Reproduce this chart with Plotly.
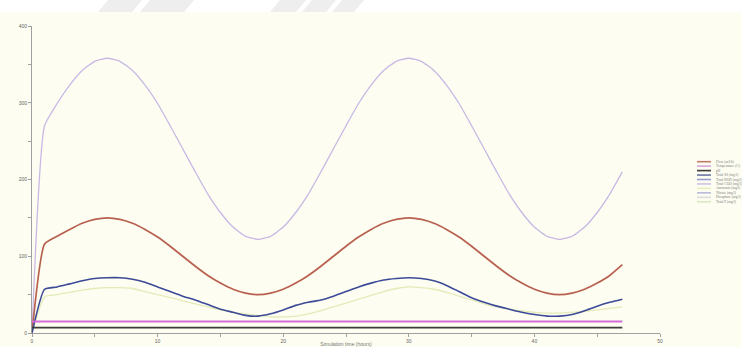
import plotly.graph_objects as go

# Simulation time (hours)
hours = list(range(48))

flow = [0, 116, 126, 135, 143, 148, 150, 148, 143, 135, 125, 113, 100, 87, 75, 65, 57, 52, 50, 52, 57, 65, 75, 87,
        100, 113, 125, 135, 143, 148, 150, 148, 143, 135, 125, 113, 100, 87, 75, 65, 57, 52, 50, 52, 57, 65, 75, 89]
temperature = [15] * 48
ph = [7] * 48
total_ss = [0, 57, 60, 64, 68, 71, 72, 72, 70, 66, 60, 54, 48, 43, 37, 31, 27, 23, 22, 25, 30, 36, 40, 43,
            48, 54, 60, 65, 69, 71, 72, 71, 68, 62, 54, 46, 40, 35, 31, 27, 24, 22, 22, 24, 29, 35, 40, 44]
total_cod = [0, 270, 299, 323, 342, 354, 358, 354, 342, 323, 299, 270, 240, 210, 181, 157, 138, 126, 122, 126, 138, 157, 181, 210,
             240, 270, 299, 323, 342, 354, 358, 354, 342, 323, 299, 270, 240, 210, 181, 157, 138, 126, 122, 126, 138, 157, 181, 210]
total_p = [0, 47, 50, 53, 56, 58, 59, 59, 58, 54, 50, 46, 42, 38, 34, 30, 27, 25, 23, 21, 21, 22, 25, 29,
           34, 39, 44, 49, 54, 58, 60, 59, 57, 53, 48, 43, 38, 34, 31, 29, 27, 26, 26, 27, 28, 30, 32, 34]

legend_names = ["Flow (m3/h)", "Temperature (C)", "pH", "Total SS (mg/l)", "Total BOD (mg/l)",
                "Total COD (mg/l)", "Ammonia (mg/l)", "Nitrate (mg/l)", "Phosphate (mg/l)", "Total P (mg/l)"]
legend_colors = ["#c07a6c", "#d9a6e0", "#3a3a3a", "#6a72a8", "#9a9ad0",
                 "#cfc2e6", "#e8ecc0", "#b8bcd8", "#dcdcdc", "#d8e8c0"]

x_ticks = [0, 10, 20, 30, 40, 50]
y_ticks = [0, 100, 200, 300, 400]

series = [
    (total_cod, "Total COD (mg/l)", "#c9b8e4", 1.3),
    (flow, "Flow (m3/h)", "#b8604f", 1.7),
    (total_p, "Total P (mg/l)", "#e4ebb8", 1.3),
    (total_ss, "Total SS (mg/l)", "#3c4a98", 1.6),
    (temperature, "Temperature (C)", "#d46cd8", 2.2),
    (ph, "pH", "#3c3c3c", 1.6),
]

fig = go.Figure()
for vals, name, color, width in series:
    fig.add_trace(go.Scatter(x=hours, y=vals, mode="lines", name=name,
                             line=dict(color=color, width=width, shape="spline", smoothing=0.5),
                             showlegend=False))

# plot area in pixels: x 32..660, y 26..333
L, R, T, B = 32, 660, 26, 333
W, H = R - L, B - T


def px(xp):
    return (xp - L) / W


def py(yp):
    return (B - yp) / H


shapes = []
annotations = []

# white header strip and faint stripes across it
shapes.append(dict(type="rect", xref="paper", yref="paper", x0=px(-10), x1=px(760),
                   y0=py(12), y1=py(-5), fillcolor="white", line=dict(width=0), layer="below"))
for x0, w in [(98, 34), (140, 44), (270, 26), (302, 24), (332, 22)]:
    path = "M {},{} L {},{} L {},{} L {},{} Z".format(
        px(x0), py(12), px(x0 + w), py(12), px(x0 + w + 10), py(0), px(x0 + 10), py(0))
    shapes.append(dict(type="path", xref="paper", yref="paper", path=path,
                       fillcolor="#eeeeee", line=dict(width=0), layer="below"))

# legend block
row_y = [161.7 + 4.45 * i for i in range(len(legend_names))]
for name, color, ry in zip(legend_names, legend_colors, row_y):
    shapes.append(dict(type="line", xref="paper", yref="paper", x0=px(697), x1=px(711),
                       y0=py(ry), y1=py(ry), line=dict(color=color, width=1.6)))
    annotations.append(dict(xref="paper", yref="paper", x=px(714), y=py(ry), text=name,
                            showarrow=False, xanchor="left", yanchor="middle",
                            font=dict(size=3.6, color="#808080", family="Liberation Sans Narrow")))

fig.update_layout(
    width=742, height=347,
    margin=dict(l=L, r=742 - R, t=T, b=347 - B, autoexpand=False),
    paper_bgcolor="#fdfdf1",
    plot_bgcolor="#fdfdf1",
    shapes=shapes,
    annotations=annotations,
    font=dict(family="Liberation Sans", size=5, color="#666666"),
    xaxis=dict(range=[0, 50], tickvals=x_ticks, showgrid=False, zeroline=False,
               automargin=False,
               showline=True, linecolor="#a0a0a0", linewidth=1,
               ticks="outside", ticklen=3, tickcolor="#a0a0a0",
               minor=dict(dtick=5, ticks="outside", ticklen=3, tickcolor="#a0a0a0"),
               tickfont=dict(size=5, color="#666666"),
               title=dict(text="Simulation time (hours)", standoff=1,
                          font=dict(size=5, color="#777777"))),
    yaxis=dict(range=[0, 400], tickvals=y_ticks, showgrid=False, zeroline=False,
               automargin=False,
               showline=True, linecolor="#a0a0a0", linewidth=1,
               ticks="outside", ticklen=3, tickcolor="#a0a0a0",
               minor=dict(dtick=50, ticks="outside", ticklen=3, tickcolor="#a0a0a0"),
               tickfont=dict(size=5, color="#666666")),
)

fig.write_html("out.html")
